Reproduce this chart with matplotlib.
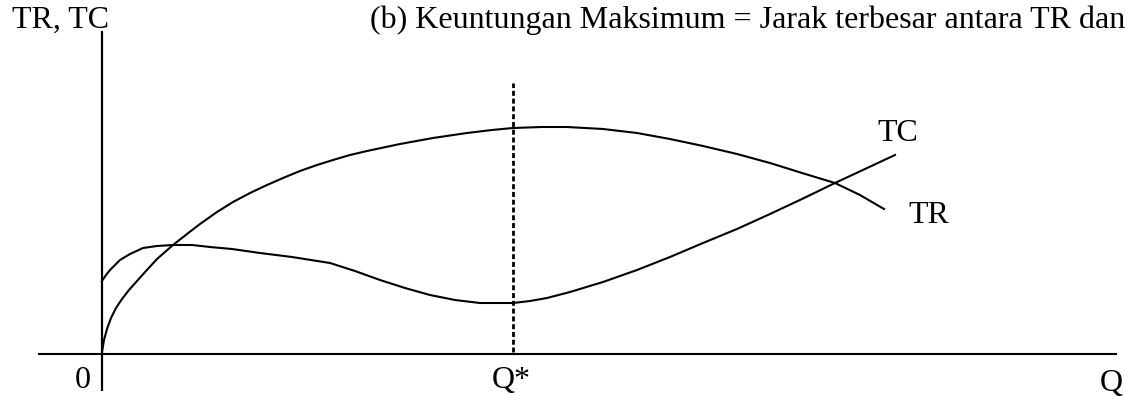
import matplotlib
matplotlib.use("Agg")
import matplotlib.pyplot as plt
import numpy as np

plt.rcParams["font.family"] = ["Liberation Serif", "DejaVu Serif"]

# Quantity (Q) and values, origin at the axes corner
tr_q = [0, 2, 5, 9, 14, 20, 27, 35, 44, 55, 71, 85, 98, 115, 131, 148, 165, 181,
        198, 215, 231, 248, 265, 298, 331, 365, 390, 411, 440, 465, 501, 535, 568,
        601, 635, 668, 700, 733, 758, 782]
tr_v = [2, 14, 25, 36, 46, 55, 64, 73, 83, 95, 109, 120, 130, 142, 152, 161, 169,
        176, 183, 189, 194, 199, 203, 210, 216, 221, 224, 226, 227, 227, 225, 221,
        215, 208, 200, 191, 181, 171, 159, 145]

tc_q = [0, 4, 8, 13, 18, 28, 41, 55, 71, 90, 108, 130, 158, 190, 228, 253, 278, 303,
        328, 353, 378, 395, 411, 428, 445, 468, 501, 535, 568, 601, 635, 668, 700,
        733, 763, 793]
tc_v = [73, 79, 84, 89, 94, 100, 106, 108, 109, 109, 107, 105, 101, 97, 91, 83, 74,
        66, 59, 54, 51, 51, 51, 53, 56, 62, 72, 84, 97, 111, 125, 140, 155, 171,
        185, 199]

q_star = 411

fig = plt.figure(figsize=(11.25, 3.96), dpi=100)
ax = fig.add_axes([0, 0, 1, 1])
ax.set_xlim(-102, 1023)
ax.set_ylim(-42, 354)
ax.axis("off")

# axes lines
ax.plot([-64, 1015], [0, 0], color="black", lw=1.5, solid_capstyle="butt")
ax.plot([0, 0], [-37, 323], color="black", lw=1.6, solid_capstyle="butt")

ax.plot(tr_q, tr_v, color="black", lw=1.5)
ax.plot(tc_q, tc_v, color="black", lw=1.5)

ax.plot([q_star, q_star], [2, 271], color="black", lw=2.0, linestyle=(0, (1.8, 1.0)))

fs = 23
ax.text(-90, 326, "TR, TC", fontsize=fs, va="baseline", ha="left")
# the title runs off the right edge, as in the reference
ax.text(268, 326, "(b) Keuntungan Maksimum = Jarak terbesar antara TR dan TC",
        fontsize=fs, va="baseline", ha="left")
ax.text(-19, -34, "0", fontsize=fs, va="baseline", ha="center")
ax.text(390, -34, "Q*", fontsize=fs, va="baseline", ha="left")
ax.text(998, -37, "Q", fontsize=fs, va="baseline", ha="left")
ax.text(775, 213, "TC", fontsize=fs, va="baseline", ha="left")
ax.text(806, 131, "TR", fontsize=fs, va="baseline", ha="left")

fig.savefig("out.png", dpi=100)
